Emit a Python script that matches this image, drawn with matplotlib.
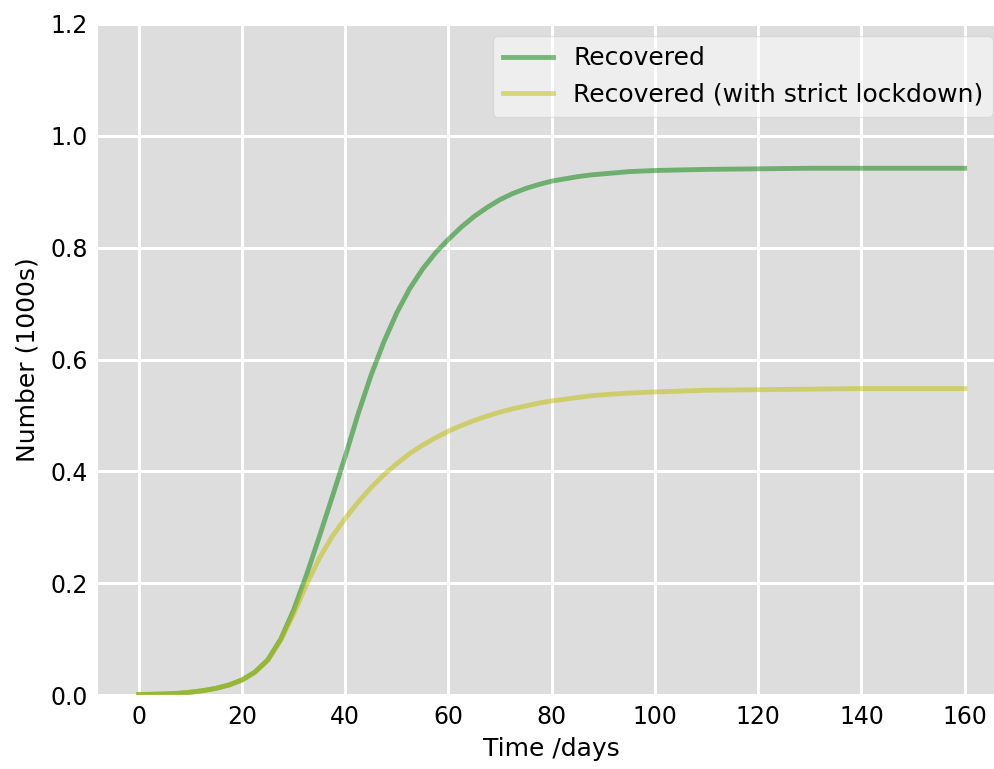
import matplotlib
matplotlib.use('Agg')
import matplotlib.pyplot as plt

# values (number in 1000s)
t = [0, 2.5, 5, 7.5, 10, 12.5, 15, 17.5, 20, 22.5, 25, 27.5, 30, 32.5, 35,
     37.5, 40, 42.5, 45, 47.5, 50, 52.5, 55, 57.5, 60, 62.5, 65, 67.5, 70,
     72.5, 75, 77.5, 80, 82.5, 85, 87.5, 90, 95, 100, 110, 120, 130, 140,
     150, 160]
recovered = [0.001, 0.0013, 0.002, 0.003, 0.005, 0.008, 0.012, 0.018, 0.027,
             0.041, 0.063, 0.1, 0.152, 0.215, 0.284, 0.355, 0.427, 0.503,
             0.572, 0.632, 0.684, 0.727, 0.762, 0.791, 0.815, 0.837, 0.856,
             0.872, 0.886, 0.897, 0.906, 0.913, 0.919, 0.923, 0.927, 0.930,
             0.932, 0.936, 0.938, 0.940, 0.941, 0.942, 0.942, 0.942, 0.942]
recovered_lockdown = [0.001, 0.0013, 0.002, 0.003, 0.005, 0.008, 0.012,
                      0.018, 0.027, 0.041, 0.062, 0.098, 0.145, 0.198, 0.245,
                      0.284, 0.316, 0.345, 0.371, 0.394, 0.414, 0.432, 0.447,
                      0.460, 0.472, 0.482, 0.491, 0.499, 0.506, 0.512, 0.517,
                      0.522, 0.526, 0.529, 0.532, 0.535, 0.537, 0.540, 0.542,
                      0.545, 0.546, 0.547, 0.548, 0.548, 0.548]

plt.rcParams['font.size'] = 18

fig = plt.figure(figsize=(9.95, 7.69), dpi=100)
ax = fig.add_axes([0.098, 0.0962, 0.913, 0.8726], facecolor='#dddddd',
                  axisbelow=True)
ax.plot(t, recovered, 'g', alpha=0.5, lw=3.5, label='Recovered')
ax.plot(t, recovered_lockdown, 'y', alpha=0.5, lw=3.5,
        label='Recovered (with strict lockdown)')
ax.set_xlabel('Time /days', labelpad=6)
ax.set_ylabel('Number (1000s)', labelpad=8)
ax.set_ylim(0, 1.2)
ax.set_xlim(-8, 168)
ax.tick_params(length=0, labelsize=17, pad=7)
ax.grid(True, which='major', c='w', lw=2.2, ls='-')
legend = ax.legend(loc='upper right')
legend.get_frame().set_alpha(0.5)
for spine in ('top', 'right', 'bottom', 'left'):
    ax.spines[spine].set_visible(False)

fig.savefig('out.png', dpi=100)
